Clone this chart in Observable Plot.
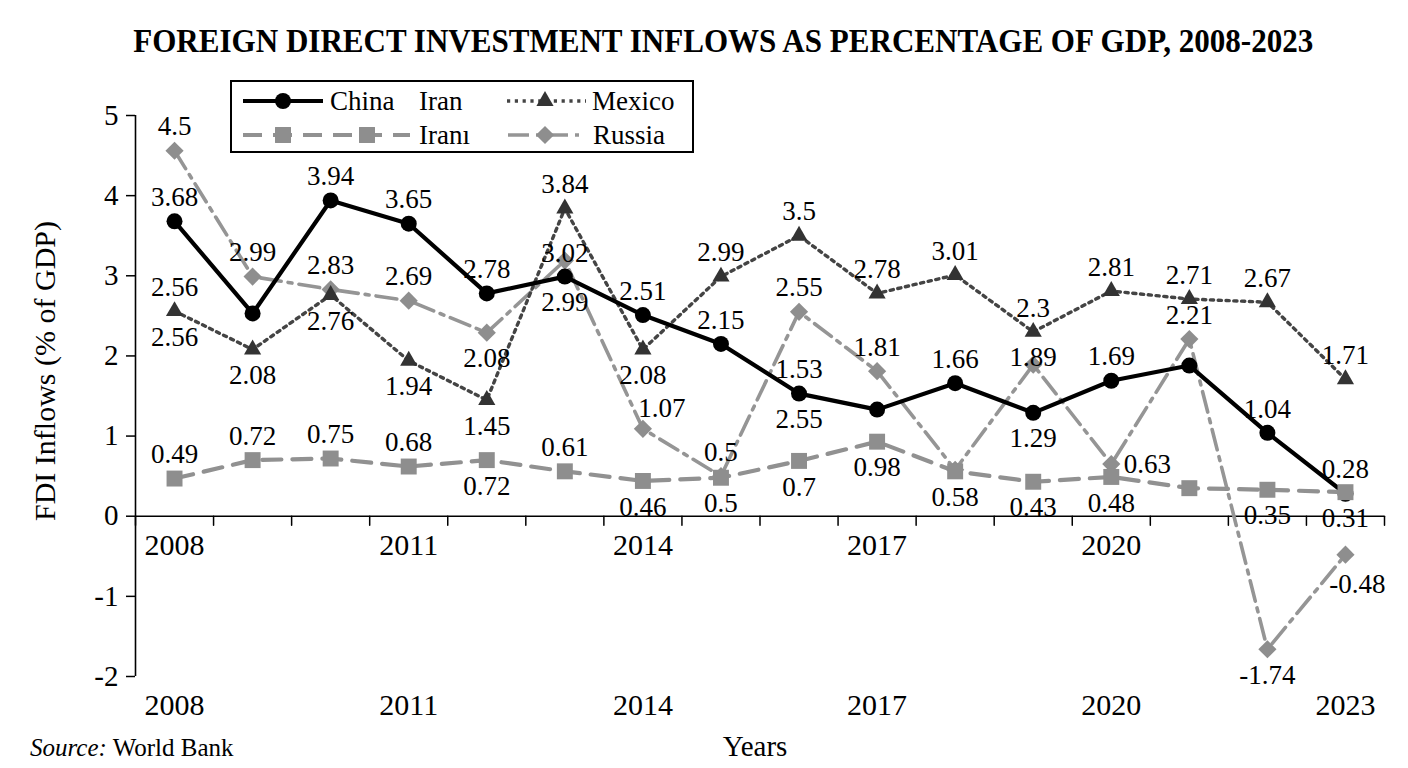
<!DOCTYPE html>
<html><head><meta charset="utf-8">
<script src="https://cdn.jsdelivr.net/npm/d3@7"></script>
<script src="https://cdn.jsdelivr.net/npm/@observablehq/plot@0.6"></script>
<style>
body{margin:0;background:#fff;}
#wrap{position:relative;width:1408px;height:768px;overflow:hidden;font-family:"Liberation Serif","Times New Roman",serif;color:#000;background:#fff;}
#title{position:absolute;left:0;top:21px;width:1446px;text-align:center;font-weight:bold;font-size:34px;white-space:nowrap;line-height:39px;}
#title span{display:inline-block;transform-origin:center;}
#chart{position:absolute;left:0;top:70px;}
#ylabel{position:absolute;left:45px;top:371px;transform:translate(-50%,-50%) rotate(-90deg);font-size:30px;white-space:nowrap;}
#xlabel{position:absolute;left:755px;top:730px;transform:translateX(-50%);font-size:29px;white-space:nowrap;}
#source{position:absolute;left:30px;top:734px;font-size:25px;white-space:nowrap;}
#legend{position:absolute;left:230px;top:80px;}
</style></head><body>
<div id="wrap">
  <div id="title"><span id="titleSpan">FOREIGN DIRECT INVESTMENT INFLOWS AS PERCENTAGE OF GDP, 2008-2023</span></div>
  <div id="chart"></div>
  <div id="ylabel">FDI Inflows (% of GDP)</div>
  <div id="xlabel">Years</div>
  <div id="source"><i>Source:</i> World Bank</div>
  <div id="legend"></div>
</div>
<script>
// ---------- DATA ----------
const years = [2008, 2009, 2010, 2011, 2012, 2013, 2014, 2015, 2016, 2017, 2018, 2019, 2020, 2021, 2022, 2023];
const china  = [3.68, 2.53, 3.94, 3.65, 2.78, 2.99, 2.51, 2.15, 1.53, 1.33, 1.66, 1.29, 1.69, 1.88, 1.04, 0.28];
const iran   = [0.47, 0.70, 0.72, 0.62, 0.70, 0.56, 0.44, 0.48, 0.69, 0.93, 0.56, 0.43, 0.49, 0.35, 0.33, 0.30];
const mexico = [2.56, 2.08, 2.76, 1.94, 1.45, 3.84, 2.08, 2.99, 3.50, 2.78, 3.01, 2.30, 2.81, 2.71, 2.67, 1.71];
const russia = [4.56, 2.99, 2.83, 2.69, 2.29, 3.19, 1.09, 0.50, 2.55, 1.81, 0.58, 1.89, 0.65, 2.21, -1.66, -0.48];

const chinaLabels  = ["3.68", "", "3.94", "3.65", "2.78", "2.99", "2.51", "2.15", "1.53", "", "1.66", "1.29", "1.69", "", "1.04", "0.28"];
const iranLabels   = ["0.49", "0.72", "0.75", "0.68", "0.72", "0.61", "0.46", "0.5", "0.7", "0.98", "0.58", "0.43", "0.48", "", "0.35", "0.31"];
const mexicoLabels = ["2.56", "2.08", "2.76", "1.94", "1.45", "3.84", "2.08", "2.99", "3.5", "2.78", "3.01", "2.3", "2.81", "2.71", "2.67", "1.71"];
const russiaLabels = ["4.5", "2.99", "2.83", "2.69", "2.08", "3.02", "1.07", "0.5", "2.55", "1.81", "", "1.89", "0.63", "2.21", "-1.74", "-0.48"];
// duplicated labels printed a second time under a point in the original
const extraLabels = [
  {series: "China", year: 2016, text: "2.55"},
  {series: "Mexico", year: 2008, text: "2.56"}
];

const yTicks = [-2, -1, 0, 1, 2, 3, 4, 5];
const xLabelYears = [2008, 2011, 2014, 2017, 2020];
const bottomYears = [2008, 2011, 2014, 2017, 2020, 2023];

// ---------- LABEL PLACEMENT (style) ----------
const chinaPlace  = ["a","","a","a","a","b","a","a","a","","a","b","a","","a","a"];
const iranPlace   = ["a","a","a","a","b","a","b","b","b","b","b","b","b","","b","b"];
const mexicoPlace = ["a","b","b","b","b","a","b","a","a","a","a","a","a","a","a","a"];
const russiaPlace = ["a","a","a","a","b","c","ar","a","a","a","","c","r","a","b","br"];
const offsets = {
  a: {dx: 0, dy: -24}, b: {dx: 0, dy: 26}, c: {dx: 0, dy: -7},
  ar: {dx: 19, dy: -20}, r: {dx: 36, dy: 0}, br: {dx: 12, dy: 30}
};

// ---------- STYLES ----------
const styles = {
  China:  {stroke: "#000", strokeWidth: 4.2, dash: null, symbol: "circle", r: 8, fill: "#000"},
  Iran:   {stroke: "#919191", strokeWidth: 4.2, dash: "19,11", symbol: "square", r: 9, fill: "#8e8e8e"},
  Mexico: {stroke: "#444", strokeWidth: 3.4, dash: "3.2,4.6", symbol: "triangle2", r: 8.2, fill: "#333"},
  Russia: {stroke: "#959595", strokeWidth: 3.6, dash: "21,7,4,7", symbol: "diamond2", r: 8.2, fill: "#8e8e8e"}
};

const seriesDefs = [
  {name: "China", values: china, labels: chinaLabels, place: chinaPlace},
  {name: "Iran", values: iran, labels: iranLabels, place: iranPlace},
  {name: "Mexico", values: mexico, labels: mexicoLabels, place: mexicoPlace},
  {name: "Russia", values: russia, labels: russiaLabels, place: russiaPlace}
];

const rows = [];
const labelRows = [];
for (const s of seriesDefs) {
  years.forEach((yr, i) => {
    rows.push({series: s.name, year: yr, value: s.values[i]});
    if (s.labels[i]) labelRows.push({series: s.name, year: yr, value: s.values[i], text: s.labels[i], place: s.place[i]});
  });
}
for (const e of extraLabels) {
  const s = seriesDefs.find(d => d.name === e.series);
  labelRows.push({series: e.series, year: e.year, value: s.values[years.indexOf(e.year)], text: e.text, place: "b"});
}

const boundaries = years.map(y => y - 0.5).concat([years[years.length - 1] + 0.5]);
const tickShape = {draw(context, l) { context.moveTo(0, 0); context.lineTo(0, -l); }};

const drawOrder = ["Russia", "Mexico", "China", "Iran"];
const seriesMarks = [];
for (const name of drawOrder) {
  const st = styles[name];
  const data = rows.filter(d => d.series === name);
  seriesMarks.push(Plot.line(data, {x: "year", y: "value", stroke: st.stroke, strokeWidth: st.strokeWidth,
    strokeDasharray: st.dash || undefined, strokeLinejoin: "round"}));
  seriesMarks.push(Plot.dot(data, {x: "year", y: "value", symbol: st.symbol, r: st.r, fill: st.fill, stroke: "none"}));
}
const labelMarks = Object.keys(offsets).map(k => Plot.text(labelRows.filter(d => d.place === k), {
  x: "year", y: "value", text: "text", dx: offsets[k].dx, dy: offsets[k].dy, fontSize: 27, fill: "#000"
}));

const chart = Plot.plot({
  width: 1408, height: 660,
  marginLeft: 135, marginRight: 24, marginTop: 45, marginBottom: 54,
  x: {domain: [2007.5, 2023.5]},
  y: {domain: [-2, 5]},
  style: {fontFamily: "'Liberation Serif', 'Times New Roman', serif", background: "transparent", color: "#000"},
  marks: [
    Plot.axisY(yTicks, {tickSize: 9, tickPadding: 8, fontSize: 29, label: null, tickFormat: d => String(d), strokeWidth: 1.5}),
    Plot.axisX(bottomYears, {anchor: "bottom", tickSize: 0, tickPadding: 17, fontSize: 30, label: null, tickFormat: d => String(d)}),
    Plot.ruleX([2007.5], {stroke: "#000", strokeWidth: 1.6}),
    Plot.ruleY([0], {stroke: "#000", strokeWidth: 1.6}),
    Plot.vector(boundaries, {x: d => d, y: 0, length: 9, rotate: 180, anchor: "start", shape: tickShape, stroke: "#000", strokeWidth: 1.5}),
    Plot.text(xLabelYears, {x: d => d, y: 0, text: d => String(d), dy: 29, fontSize: 30, fill: "#000"}),
    ...seriesMarks,
    ...labelMarks
  ]
});
document.getElementById("chart").appendChild(chart);

// ---------- LEGEND ----------
const L = d3.select("#legend").append("svg").attr("width", 464).attr("height", 73)
  .style("font-family", "'Liberation Serif', 'Times New Roman', serif");
L.append("rect").attr("x", 1).attr("y", 1).attr("width", 462).attr("height", 71).attr("fill", "#fff").attr("stroke", "#000").attr("stroke-width", 2);
function sym(g, type, cx, cy, st) {
  const size = st.r * st.r * Math.PI;
  const map = {circle: d3.symbolCircle, square: d3.symbolSquare, triangle2: d3.symbolTriangle2, diamond2: d3.symbolDiamond2};
  g.append("path").attr("d", d3.symbol(map[type], size)()).attr("transform", `translate(${cx},${cy})`).attr("fill", st.fill);
}
function lineSeg(x1, x2, y, st) {
  L.append("line").attr("x1", x1).attr("x2", x2).attr("y1", y).attr("y2", y)
    .attr("stroke", st.stroke).attr("stroke-width", st.strokeWidth).attr("stroke-dasharray", st.dash || null);
}
const r1 = 21, r2 = 55;
lineSeg(13, 93, r1, styles.China); sym(L, "circle", 53, r1, styles.China);
lineSeg(277, 356, r1, styles.Mexico); sym(L, "triangle2", 315, r1, styles.Mexico);
lineSeg(13, 180, r2, styles.Iran); sym(L, "square", 53, r2, styles.Iran); sym(L, "square", 137, r2, styles.Iran);
lineSeg(278, 356, r2, styles.Russia); sym(L, "diamond2", 315, r2, styles.Russia);
const lt = [["China", 100, r1], ["Iran", 189, r1], ["Mexico", 362, r1], ["Iranı", 189, r2], ["Russia", 363, r2]];
for (const [t, x, y] of lt) L.append("text").attr("x", x).attr("y", y + 9).attr("font-size", 27).text(t);

// ---------- TITLE FIT ----------
const ts = document.getElementById("titleSpan");
const w = ts.getBoundingClientRect().width;
ts.style.transform = `scaleX(${1180 / w})`;
</script>
</body></html>
